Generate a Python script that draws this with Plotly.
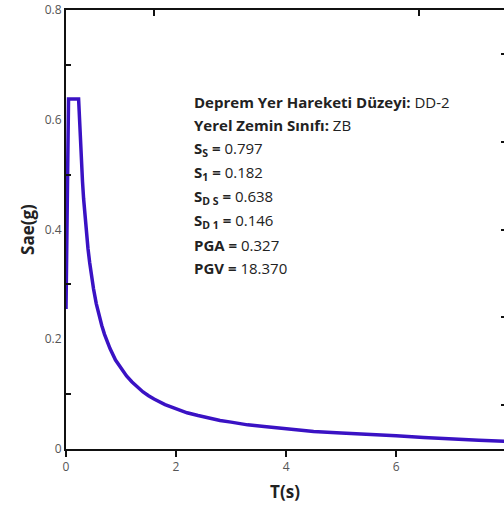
import plotly.graph_objects as go

# Periods (s) and spectral acceleration (g)
period_s = [0.0, 0.046, 0.229, 0.24, 0.25, 0.26, 0.27, 0.28, 0.29, 0.30, 0.32, 0.34, 0.36, 0.38, 0.40,
            0.43, 0.46, 0.50, 0.55, 0.60, 0.65, 0.70, 0.75, 0.80, 0.90, 1.0, 1.1, 1.2, 1.3, 1.4,
            1.5, 1.6, 1.8, 2.0, 2.2, 2.4, 2.6, 2.8, 3.0, 3.3, 3.6, 4.0, 4.5, 5.0, 5.5, 6.0,
            6.5, 7.0, 7.5, 8.0]
sae_g = [0.255, 0.638, 0.638, 0.608, 0.584, 0.562, 0.541, 0.521, 0.503, 0.487, 0.456, 0.429, 0.406, 0.384, 0.365,
         0.340, 0.317, 0.292, 0.265, 0.243, 0.225, 0.209, 0.195, 0.183, 0.162, 0.146, 0.133, 0.122, 0.112, 0.104,
         0.097, 0.091, 0.081, 0.073, 0.066, 0.061, 0.056, 0.052, 0.049, 0.044, 0.041, 0.037, 0.032, 0.029, 0.027, 0.024,
         0.021, 0.018, 0.016, 0.014]

x_ticks = [0, 2, 4, 6]
y_ticks = [0, 0.2, 0.4, 0.6, 0.8]
y_minor = [0.1, 0.3, 0.5, 0.7]
right_ticks = [0.08, 0.24, 0.40, 0.56, 0.72]
top_ticks = [1.6, 6.42]

info_lines = [
    "<b>Deprem Yer Hareketi Düzeyi:</b> DD-2",
    "<b>Yerel Zemin Sınıfı:</b> ZB",
    "<b>S<sub>S</sub> =</b> 0.797",
    "<b>S<sub>1</sub> =</b> 0.182",
    "<b>S<sub>D S</sub> =</b> 0.638",
    "<b>S<sub>D 1</sub> =</b> 0.146",
    "<b>PGA =</b> 0.327",
    "<b>PGV =</b> 18.370",
]

XR = [0, 7.96]
YR = [0, 0.8]
FONT = "Open Sans, Liberation Sans, sans-serif"

fig = go.Figure()
fig.add_trace(go.Scatter(x=period_s, y=sae_g, mode="lines",
                         line=dict(color="#3a12c4", width=3.5), showlegend=False,
                         cliponaxis=False))
# invisible trace to activate secondary axes (frame ticks)
fig.add_trace(go.Scatter(x=[None], y=[None], xaxis="x2", yaxis="y2", showlegend=False))

fig.update_layout(
    width=504, height=510,
    margin=dict(l=66, r=0, t=10, b=61),
    paper_bgcolor="white", plot_bgcolor="white",
    font=dict(family=FONT, color="#555"),
    xaxis=dict(range=XR, tickvals=x_ticks, ticktext=[str(v) for v in x_ticks],
               ticks="outside", ticklen=6, tickwidth=2, tickcolor="#111",
               showline=True, linecolor="#111", linewidth=2, showgrid=False, zeroline=False,
               tickfont=dict(size=12, color="#555", family=FONT),
               title=dict(text="<b>T(s)</b>", font=dict(size=17, color="#222", family=FONT), standoff=12)),
    yaxis=dict(range=YR, tickvals=y_ticks, ticktext=["0", "0.2", "0.4", "0.6", "0.8"],
               ticks="", showline=True, linecolor="#111", linewidth=2, showgrid=False, zeroline=False,
               tickfont=dict(size=12, color="#555", family=FONT),
               minor=dict(tickvals=y_minor, ticks="inside", ticklen=5, tickwidth=2, tickcolor="#111"),
               title=dict(text="<b>Sae(g)</b>", font=dict(size=17, color="#222", family=FONT), standoff=6)),
    xaxis2=dict(range=XR, overlaying="x", side="top", tickvals=top_ticks, showticklabels=False,
                ticks="inside", ticklen=6, tickwidth=2, tickcolor="#111",
                showline=True, linecolor="#111", linewidth=2, showgrid=False, zeroline=False),
    yaxis2=dict(range=YR, overlaying="y", side="right", tickvals=right_ticks, showticklabels=False,
                ticks="inside", ticklen=3, tickwidth=2, tickcolor="#111",
                showline=True, linecolor="#111", linewidth=2, showgrid=False, zeroline=False),
)

# info text block, one annotation per line
y0, dy = 0.633, 0.0434
for i, line in enumerate(info_lines):
    fig.add_annotation(
        x=0.2877, y=y0 - i * dy, xref="paper", yref="y", xanchor="left", yanchor="middle",
        text=line, showarrow=False, align="left",
        font=dict(size=15, color="#222", family=FONT),
    )

fig.write_html("out.html")
